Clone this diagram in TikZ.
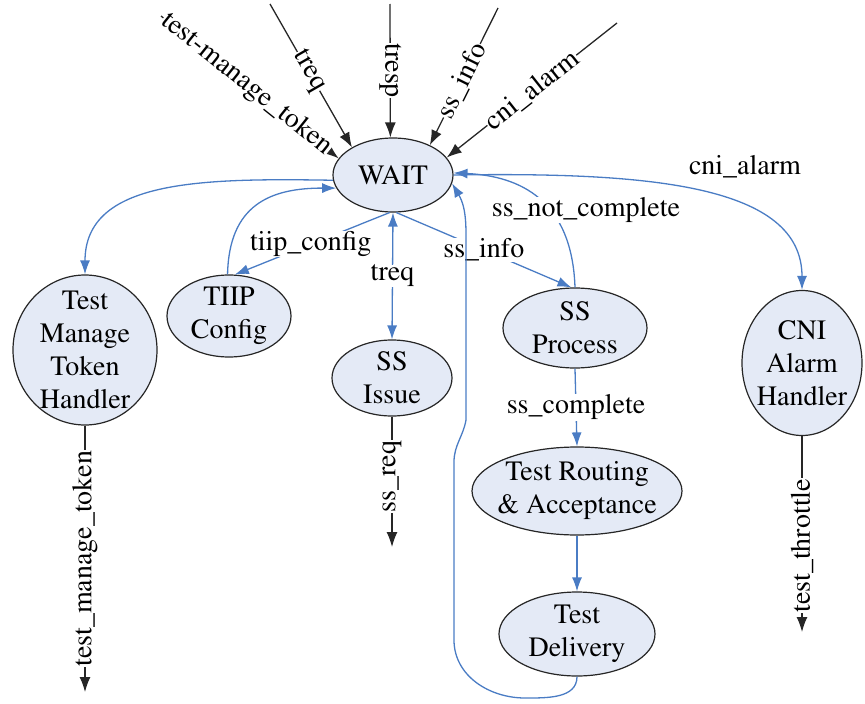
\documentclass[tikz,border=0pt]{standalone}
\usepackage[T1]{fontenc}
\usepackage{mathptmx}
\usetikzlibrary{shapes.geometric,arrows.meta}
\definecolor{flowblue}{RGB}{74,124,196}
\definecolor{statefill}{RGB}{228,234,246}
\tikzset{
  state/.style={ellipse,draw=black!85,line width=1.2pt,fill=statefill,inner sep=0pt},
  statetext/.style={align=center,inner sep=0pt,font=\fontsize{28}{33}\selectfont},
  sig/.style={draw=black!85,line width=1.3pt,-{Latex[length=15pt,width=11pt]}},
  flow/.style={draw=flowblue,line width=1.3pt,-{Latex[length=14pt,width=10pt]}},
  lbl/.style={fill=white,inner sep=0.5pt,font=\fontsize{28}{30}\selectfont},
}
\begin{document}
\begin{tikzpicture}[x=1pt,y=-1pt]
\useasboundingbox (0,0) rectangle (865,704);

% states
\node[state,minimum width=120pt,minimum height=74pt] (wait) at (393,175) {};
\node[statetext] (waitt) at (wait) {WAIT};
\node[state,minimum width=144pt,minimum height=150pt] (tmth) at (85,350) {};
\node[statetext] (tmtht) at (tmth) {Test\\Manage\\Token\\Handler};
\node[state,minimum width=124pt,minimum height=82pt] (tiip) at (229,316) {};
\node[statetext] (tiipt) at (tiip) {TIIP\\Config};
\node[state,minimum width=120pt,minimum height=76pt] (ssi) at (392,378) {};
\node[statetext] (ssit) at (ssi) {SS\\Issue};
\node[state,minimum width=144pt,minimum height=80pt] (ssp) at (575,328) {};
\node[statetext] (sspt) at (ssp) {SS\\Process};
\node[state,minimum width=120pt,minimum height=145pt] (cni) at (802,363) {};
\node[statetext] (cnit) at (cni) {CNI\\Alarm\\Handler};
\node[state,minimum width=210pt,minimum height=88pt] (tra) at (577,491) {};
\node[statetext] (trat) at (tra) {Test Routing\\\& Acceptance};
\node[state,minimum width=156pt,minimum height=84pt] (td) at (577,634) {};
\node[statetext] (tdt) at (td) {Test\\Delivery};

% free ends of the incoming and outgoing signals
\coordinate (inTmt) at (161,16);
\coordinate (inTreq) at (270,4);
\coordinate (inTresp) at (390,4);
\coordinate (inSsinfo) at (498,8);
\coordinate (inCni) at (617,23);
\coordinate (outTmt) at (85,692);
\coordinate (outSsreq) at (392,547);
\coordinate (outThr) at (802,632);

% incoming signals
\draw[sig] (inTmt) -- (wait.163) node[lbl,sloped,pos=0.48] (lTmt) {test-manage\_token};
\draw[sig] (inTreq) -- (wait.146) node[lbl,sloped,pos=0.47] (lTreq) {treq};
\draw[sig] (inTresp) -- (wait.94) node[lbl,rotate=-90,pos=0.5] (lTresp) {tresp};
\draw[sig] (inSsinfo) -- (wait.39) node[lbl,sloped,pos=0.53] (lSsinfo) {ss\_info};
\draw[sig] (inCni) -- (wait.18) node[lbl,sloped,pos=0.5] (lCni) {cni\_alarm};

% outgoing signals
\draw[sig] (tmth.south) -- (outTmt) node[lbl,rotate=90,pos=0.5] (lOutTmt) {test\_manage\_token};
\draw[sig] (ssi.south) -- (outSsreq) node[lbl,rotate=90,pos=0.46] (lSsreq) {ss\_req};
\draw[sig] (cni.south) -- (outThr) node[lbl,rotate=90,pos=0.56] (lThr) {test\_throttle};

% internal transitions
\draw[flow] (wait.185) .. controls (200,178) and (85,180) .. (tmth.north);
\draw[flow] (tiip.92) .. controls (229,205) and (270,188) .. (wait.193);
\draw[flow] (wait.265) -- (tiip.82) node[lbl,pos=0.51] (lTiip) {tiip\_config};
\draw[flow,{Latex[length=14pt,width=10pt]}-{Latex[length=14pt,width=10pt]}] (wait.south) -- (ssi.north) node[lbl,pos=0.5] (lTreqI) {treq};
\draw[flow] (wait.275) -- (ssp.95) node[lbl,pos=0.5] (lSsinfoI) {ss\_info};
\draw[flow] (ssp.north) .. controls (572,200) and (520,176) .. (wait.2);
\node[lbl] (lNc) at (586,210) {ss\_not\_complete};
\draw[flow] (wait.0) .. controls (650,172) and (802,185) .. (cni.north);
\node[lbl] (lCniI) at (745,167) {cni\_alarm};
\draw[flow] (ssp.south) -- (tra.north) node[lbl,pos=0.5] (lSsc) {ss\_complete};
\draw[flow] (tra.south) -- (td.north);
\draw[flow] (td.south) to[out=-90,in=0] (525,698) to[out=180,in=-90] (454,640)
  -- (454,462) to[out=90,in=-100] (466,420) -- (466,260) to[out=90,in=-60] (wait.352);
\end{tikzpicture}
\end{document}
